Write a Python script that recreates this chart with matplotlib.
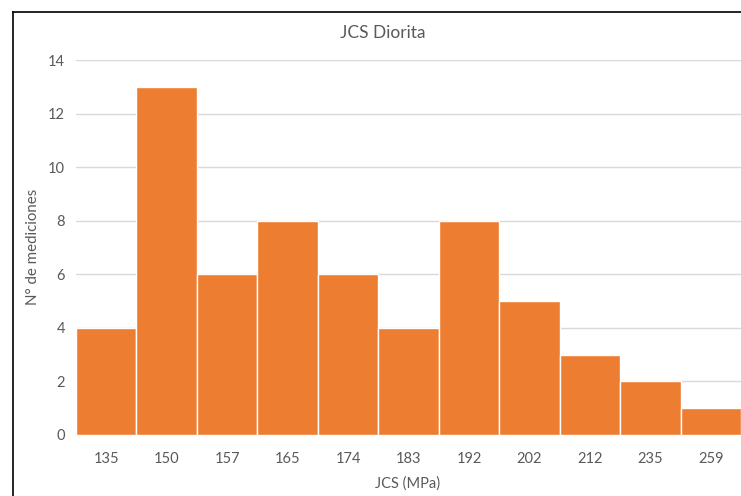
import numpy as np
import matplotlib.pyplot as plt
from matplotlib.lines import Line2D

bins = ["135", "150", "157", "165", "174", "183", "192", "202", "212", "235", "259"]
counts = [4, 13, 6, 8, 6, 4, 8, 5, 3, 2, 1]

plt.rcParams['font.family'] = ['Lato', 'DejaVu Sans']

fig = plt.figure(figsize=(7.41, 4.96), dpi=100)
W, H = 741, 496
ax = fig.add_axes([76 / W, 1 - 435 / H, 1 - 76 / W, (435 - 60) / H])

x = np.arange(len(bins))
ax.bar(x, counts, width=1.0, color="#ED7D31", edgecolor="white", linewidth=1, zorder=3)

ax.set_xlim(-0.5, len(bins) - 0.5)
ax.set_ylim(0, 14)
ax.set_yticks(range(0, 15, 2))
ax.set_xticks(x)
ax.set_xticklabels(bins)
ax.grid(axis="y", color="#D9D9D9", linewidth=1, zorder=0)
for s in ax.spines.values():
    s.set_visible(False)
ax.tick_params(length=0, labelsize=10.5, colors="#595959", pad=12)
ax.tick_params(axis="y", pad=8)

fig.text(383 / W, 1 - 33 / H, "JCS Diorita", ha="center", va="center",
         fontsize=12.5, color="#595959")
fig.text(33 / W, 1 - 247 / H, "N° de mediciones", ha="center", va="center",
         rotation=90, fontsize=10.8, color="#595959")
fig.text(408 / W, 1 - 484 / H, "JCS (MPa)", ha="center", va="center",
         fontsize=10.5, color="#595959")

# chart border (cropped at right and bottom)
fig.add_artist(Line2D([12.5 / W, 12.5 / W], [0, 1 - 11.5 / H], color="black", linewidth=1.2))
fig.add_artist(Line2D([12.5 / W, 1], [1 - 11.5 / H, 1 - 11.5 / H], color="black", linewidth=1.2))

fig.savefig("out.png", dpi=100)
